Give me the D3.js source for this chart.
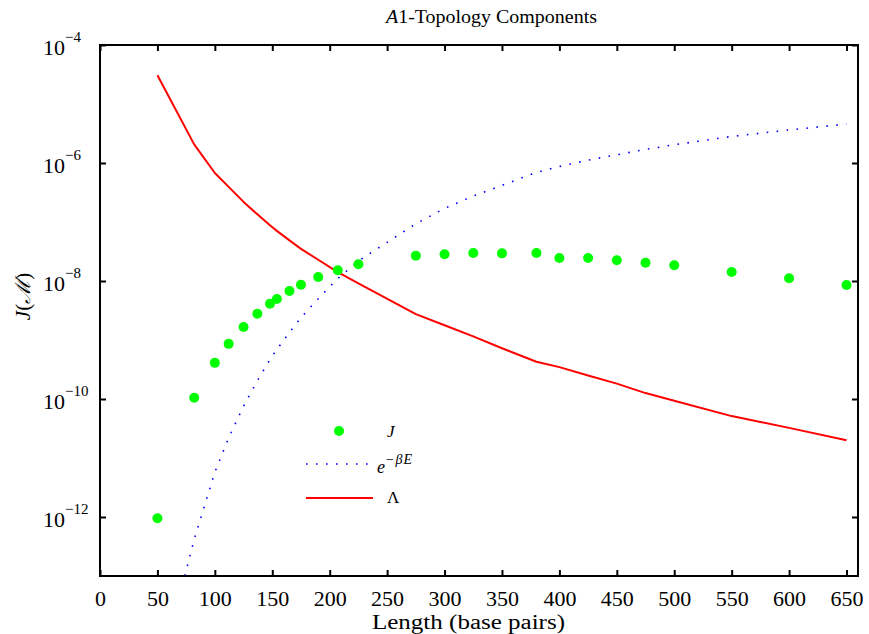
<!DOCTYPE html>
<html>
<head>
<meta charset="utf-8">
<script src="https://cdn.jsdelivr.net/npm/d3@7"></script>
<style>
  body { margin: 0; background: #fff; }
  svg text { font-family: "Liberation Serif", "DejaVu Serif", serif; fill: #000; }
</style>
</head>
<body>
<div id="chart"></div>
<script>
// chain length (base pairs)
const lengths = [50, 82, 100, 112, 125, 137, 148, 154, 165, 175, 190, 207, 225,
  275, 300, 325, 350, 380, 400, 425, 450, 475, 500, 550, 600, 650];

// J(M) (green dots)
const jValues = [9.5e-13, 1.05e-10, 4.1e-10, 8.6e-10, 1.66e-9, 2.79e-9, 4.12e-9, 4.95e-9,
  6.78e-9, 8.65e-9, 1.17e-8, 1.52e-8, 1.92e-8, 2.69e-8, 2.84e-8, 2.99e-8, 2.94e-8,
  2.99e-8, 2.45e-8, 2.45e-8, 2.24e-8, 2.04e-8, 1.85e-8, 1.42e-8, 1.11e-8, 8.55e-9];

// e^{-beta E} (blue dotted)
const boltzValues = [1.58e-15, 4.17e-13, 5.75e-12, 2.19e-11, 7.59e-11, 2.04e-10, 4.68e-10,
  6.92e-10, 1.35e-9, 2.4e-9, 5.01e-9, 1.1e-8, 2.19e-8, 9.33e-8, 1.7e-7, 2.75e-7, 4.17e-7,
  6.92e-7, 8.71e-7, 1.12e-6, 1.38e-6, 1.7e-6, 2.04e-6, 2.82e-6, 3.63e-6, 4.57e-6];

// Lambda (red line)
const lambdaValues = [3.06e-5, 2.07e-6, 6.76e-7, 3.94e-7, 2.19e-7, 1.35e-7, 8.79e-8, 7.08e-8,
  4.89e-8, 3.5e-8, 2.29e-8, 1.41e-8, 9.12e-9, 2.75e-9, 1.78e-9, 1.15e-9, 7.24e-10,
  4.27e-10, 3.47e-10, 2.51e-10, 1.82e-10, 1.26e-10, 9.33e-11, 5.13e-11, 3.24e-11, 2.0e-11];

const xTicks = d3.range(0, 651, 50);
const yTickExps = [-4, -6, -8, -10, -12];

const width = 869;
const height = 634;
const margin = { left: 100, right: 11, top: 45, bottom: 58 };

const svg = d3.select("#chart")
  .append("svg")
  .attr("width", width)
  .attr("height", height);

const x = d3.scaleLinear()
  .domain([0, 660])
  .range([margin.left, width - margin.right]);

const y = d3.scaleLog()
  .domain([1e-13, 1e-4])
  .range([height - margin.bottom, margin.top]);

svg.append("defs").append("clipPath")
  .attr("id", "plot-clip")
  .append("rect")
  .attr("x", x(0))
  .attr("y", y(1e-4))
  .attr("width", x(660) - x(0))
  .attr("height", y(1e-13) - y(1e-4));

const plot = svg.append("g").attr("clip-path", "url(#plot-clip)");

const rows = lengths.map((L, i) => ({ L, j: jValues[i], b: boltzValues[i], lam: lambdaValues[i] }));

// blue dotted
plot.append("path")
  .datum(rows)
  .attr("fill", "none")
  .attr("stroke", "#0000ff")
  .attr("stroke-width", 1.6)
  .attr("stroke-dasharray", "1.6 8.4")
  .attr("d", d3.line().x(d => x(d.L)).y(d => y(d.b)));

// red line
plot.append("path")
  .datum(rows)
  .attr("fill", "none")
  .attr("stroke", "#ff0000")
  .attr("stroke-width", 2)
  .attr("stroke-linejoin", "round")
  .attr("d", d3.line().x(d => x(d.L)).y(d => y(d.lam)));

// green dots
plot.selectAll("circle")
  .data(rows)
  .join("circle")
  .attr("cx", d => x(d.L))
  .attr("cy", d => y(d.j))
  .attr("r", 5)
  .attr("fill", "#00ff00");

// axes (ticks inward on all sides)
const axisStyle = g => {
  g.select(".domain").remove();
  g.selectAll("line").attr("stroke", "#000").attr("stroke-width", 2);
};

svg.append("g")
  .attr("transform", `translate(0,${y(1e-13)})`)
  .call(d3.axisBottom(x).tickValues(xTicks).tickSize(-6).tickPadding(14))
  .call(axisStyle)
  .call(g => g.selectAll("text").attr("font-size", 22).attr("font-family", "Liberation Serif"));

svg.append("g")
  .attr("transform", `translate(0,${y(1e-4)})`)
  .call(d3.axisTop(x).tickValues(xTicks).tickSize(-6).tickFormat(""))
  .call(axisStyle);

const yTickVals = yTickExps.map(e => Math.pow(10, e));

svg.append("g")
  .attr("transform", `translate(${x(0)},0)`)
  .call(d3.axisLeft(y).tickValues(yTickVals).tickSize(-6).tickFormat(""))
  .call(axisStyle);

svg.append("g")
  .attr("transform", `translate(${x(660)},0)`)
  .call(d3.axisRight(y).tickValues(yTickVals).tickSize(-6).tickFormat(""))
  .call(axisStyle);

// y tick labels 10^e
const yLabels = svg.append("g")
  .selectAll("text")
  .data(yTickExps)
  .join("text")
  .attr("x", 43)
  .attr("y", e => y(Math.pow(10, e)) + 10)
  .attr("font-size", 22);
yLabels.append("tspan").text("10");
yLabels.append("tspan")
  .attr("dy", -13)
  .attr("font-size", 15)
  .text(e => "\u2212" + Math.abs(e));

// frame
svg.append("rect")
  .attr("x", x(0))
  .attr("y", y(1e-4))
  .attr("width", x(660) - x(0))
  .attr("height", y(1e-13) - y(1e-4))
  .attr("fill", "none")
  .attr("stroke", "#000")
  .attr("stroke-width", 2);

// title
const title = svg.append("text")
  .attr("x", 386)
  .attr("y", 23)
  .attr("font-size", 19)
  .attr("textLength", 211)
  .attr("lengthAdjust", "spacingAndGlyphs");
title.append("tspan").attr("font-style", "italic").text("A");
title.append("tspan").text("1-Topology Components");

// x label
svg.append("text")
  .attr("x", 372)
  .attr("y", 629)
  .attr("font-size", 20)
  .attr("textLength", 193)
  .attr("lengthAdjust", "spacingAndGlyphs")
  .text("Length (base pairs)");

// y label
const yl = svg.append("text")
  .attr("transform", `translate(30,${(y(1e-4) + y(1e-13)) / 2 - 14}) rotate(-90)`)
  .attr("text-anchor", "middle")
  .attr("font-size", 21);
yl.append("tspan").attr("font-style", "italic").text("J");
yl.append("tspan").text("(");
yl.append("tspan").attr("font-style", "italic").text("\u2133");
yl.append("tspan").text(")");

// legend
const legend = svg.append("g");
legend.append("circle").attr("cx", 339).attr("cy", 431).attr("r", 5).attr("fill", "#00ff00");
legend.append("text").attr("x", 387).attr("y", 437).attr("font-size", 17)
  .attr("font-style", "italic").text("J");

legend.append("line")
  .attr("x1", 306).attr("x2", 368).attr("y1", 464).attr("y2", 464)
  .attr("stroke", "#0000ff").attr("stroke-width", 1.6).attr("stroke-dasharray", "1.6 8.4");
const eText = legend.append("text").attr("x", 377).attr("y", 473).attr("font-size", 18)
  .attr("font-style", "italic");
eText.append("tspan").text("e");
eText.append("tspan").attr("dy", -9).attr("font-size", 14).attr("letter-spacing", 1).text("\u2212\u03b2E");

legend.append("line")
  .attr("x1", 306).attr("x2", 373).attr("y1", 498).attr("y2", 498)
  .attr("stroke", "#ff0000").attr("stroke-width", 2);
legend.append("text").attr("x", 387).attr("y", 503).attr("font-size", 17).text("\u039b");
</script>
</body>
</html>
